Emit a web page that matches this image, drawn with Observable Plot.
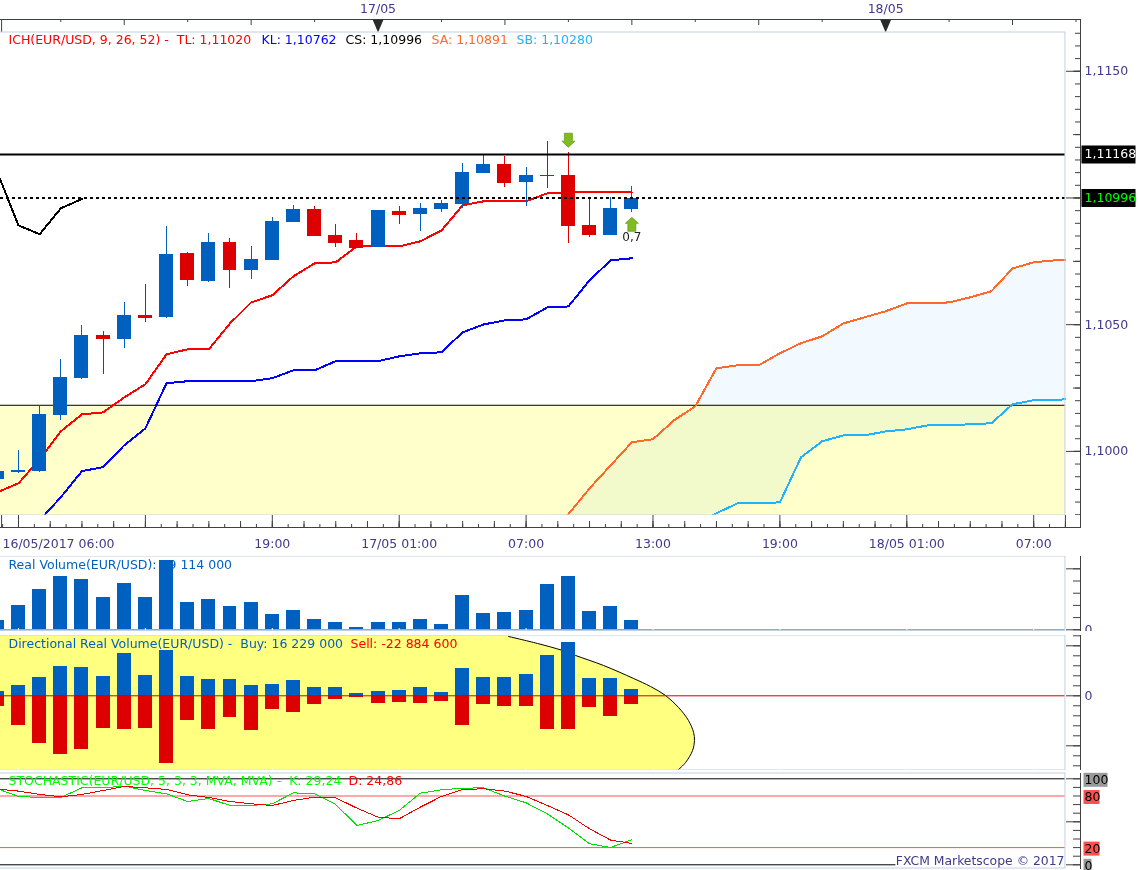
<!DOCTYPE html>
<html><head><meta charset="utf-8">
<script src="https://cdn.jsdelivr.net/npm/d3@7"></script>
<script src="https://cdn.jsdelivr.net/npm/@observablehq/plot@0.6"></script>
<style>html,body{margin:0;padding:0;background:#fff}#chart{position:relative;width:1138px;height:870px;overflow:hidden}</style>
</head><body><div id="chart"></div>
<script>
// ---- data ----
const bars = d3.range(-1, 30);
const open  = [1.09890,1.09918,1.09921,1.10142,1.10288,1.10458,1.10442,1.10537,1.10529,1.10782,1.10671,1.10825,1.10715,1.10754,1.10904,1.10955,1.10853,1.10833,1.10805,1.10947,1.10936,1.10955,1.10975,1.11097,1.11133,1.11062,1.11089,1.11089,1.10892,1.10853,1.10955];
const high  = [1.09921,1.10004,1.10178,1.10363,1.10498,1.10474,1.10588,1.10659,1.10888,1.10786,1.10861,1.10841,1.10809,1.10924,1.10971,1.10967,1.10896,1.10861,1.10951,1.10967,1.10979,1.10991,1.11137,1.11172,1.11164,1.11121,1.11224,1.11180,1.10999,1.11003,1.11046];
const low   = [1.09890,1.09914,1.09918,1.10123,1.10285,1.10304,1.10407,1.10509,1.10525,1.10651,1.10667,1.10644,1.10679,1.10754,1.10904,1.10849,1.10805,1.10801,1.10805,1.10896,1.10868,1.10943,1.10959,1.11097,1.11042,1.10967,1.11038,1.10821,1.10845,1.10853,1.10943];
const close = [1.09921,1.09925,1.10146,1.10292,1.10458,1.10442,1.10537,1.10525,1.10778,1.10675,1.10825,1.10715,1.10758,1.10908,1.10955,1.10849,1.10821,1.10801,1.10951,1.10932,1.10959,1.10979,1.11101,1.11133,1.11058,1.11089,1.11086,1.10888,1.10853,1.10959,1.10999];
const tenkan = [1.09839,1.09874,1.09969,1.10079,1.10146,1.10154,1.10213,1.10265,1.10383,1.10403,1.10403,1.10505,1.10588,1.10616,1.10691,1.10742,1.10746,1.10809,1.10809,1.10809,1.10829,1.10872,1.10971,1.10987,1.10987,1.10987,1.11018,1.11022,1.11022,1.11022,1.11022];
const kijunBars = d3.range(1, 30);
const kijun = [1.09728,1.09819,1.09922,1.09938,1.10024,1.10091,1.10269,1.10277,1.10277,1.10277,1.10277,1.10289,1.10320,1.10320,1.10356,1.10356,1.10356,1.10375,1.10387,1.10391,1.10470,1.10501,1.10517,1.10521,1.10568,1.10572,1.10675,1.10754,1.10762];
const chikouBars = [-1,0,1,2,3];
const chikou = [1.11101,1.10892,1.10857,1.10959,1.10996];
const cloudBars = [25,26,27,28,29,30,31,32,33,34,35,36,37,38,39,40,41,42,43,44,45,46,47,48,49,49.5];
const spanA = [1.09649,1.09752,1.09854,1.09945,1.10036,1.10048,1.10123,1.10178,1.10328,1.10340,1.10340,1.10387,1.10427,1.10454,1.10505,1.10529,1.10553,1.10584,1.10584,1.10588,1.10608,1.10632,1.10722,1.10746,1.10754,1.10756];
const spanB = [1.09708,1.09708,1.09708,1.09708,1.09708,1.09708,1.09708,1.09708,1.09756,1.09795,1.09795,1.09799,1.09977,1.10040,1.10063,1.10063,1.10079,1.10087,1.10103,1.10103,1.10107,1.10111,1.10186,1.10202,1.10202,1.10206];
const resistance = 1.11168, lastPrice = 1.10996, bandTop = 1.10182;
const volume = [38,100,165,219,206,132,190,132,283,112,124,96,112,63,79,42,30,9,30,30,42,22,141,67,71,79,186,219,75,96,39.114];
const buy  = [10.8,25.8,45.8,73.3,70.8,48.3,105.8,50.8,113.3,48.3,40.8,40.8,25.8,28.3,38.3,20.8,20.8,5.8,10.8,13.3,20.8,8.3,68.3,45.8,45.8,53.3,100.8,133.3,43.3,43.3,16.229];
const sell = [-26.8,-74.3,-119.3,-146.8,-134.3,-81.8,-84.3,-81.8,-169.3,-61.8,-84.3,-54.3,-86.8,-34.3,-41.8,-21.8,-9.3,-4.3,-19.3,-16.8,-19.3,-14.3,-74.3,-21.8,-26.8,-26.8,-84.3,-84.3,-29.3,-51.8,-22.8846];
const ellipseEdgeBar = [23.17,23.17,24.54,25.72,26.34,27.66,29.08,29.88,30.59,31.21,31.68,31.92,31.96,31.87,31.54,31.21];
const ellipseEdgeVol = [150.7,148.3,130.8,113.3,100.8,75.8,43.3,23.3,0.8,-29.3,-61.8,-91.8,-111.8,-136.8,-166.8,-184.3];
const stochK = [88.4,79.5,78.3,78.3,89.5,89.5,91.5,86.4,82.5,73.6,77.1,69,69,70.9,83.7,82.5,70.1,45.7,51.5,63.2,83.3,87.2,89.1,89.5,79.8,72.1,59.3,43,24.4,20.2,29.24];
const stochD = [88,85.7,81.8,79.1,81.8,86.4,91.1,89.5,87.6,81.4,78.3,73.6,70.9,69,74.8,78.7,77.9,65.9,55.4,53.5,67.1,79.5,87.6,88.4,85.7,79.5,69,58.1,41.9,28.7,24.86];
const timeBars = [12,18,24,30,36,42,48];
const timeLabels = ["19:00","17/05 01:00","07:00","13:00","19:00","18/05 01:00","07:00"];
const dayBars = [17,41];
const dayLabels = ["17/05","18/05"];
const priceTickLabels = [1.115,1.105,1.10];

// ---- look ----
const FONT = '"DejaVu Sans", sans-serif';
const FS = 12.5;
const BLUE = "#0060c0", RED = "#dc0000", AXIS = "#404040", INK = "#3f3a8c", EDGE = "#c3d0e0";
const xDomain = [-0.851, 50.213], panelEnd = 49.5, frameRight = 1080;
const priceFloor = 1.09747, priceCeil = 1.11653;
const fmt4 = d => d.toFixed(4).replace(".", ",");
const rows = bars.map((i, k) => ({i, o: open[k], h: high[k], l: low[k], c: close[k], up: close[k] >= open[k] && i !== 25, buy: buy[k], sell: sell[k], v: volume[k], tk: tenkan[k], K: stochK[k], D: stochD[k]}));
const cloud = cloudBars.map((i, k) => ({i, a: spanA[k], b: spanB[k], af: Math.max(spanA[k], priceFloor), bf: Math.max(spanB[k], priceFloor)}));
const edge = ellipseEdgeBar.map((x, k) => ({x, y: ellipseEdgeVol[k]}));

const chart = document.getElementById("chart");
function panel(top, height, opts, marks) {
  const svg = Plot.plot({
    width: 1138, height, marginLeft: 0, marginRight: 58, marginTop: 0, marginBottom: 0,
    x: {domain: xDomain, axis: null},
    style: {position: "absolute", left: "0px", top: top + "px", background: "transparent", fontFamily: FONT, overflow: "hidden"},
    ...opts, marks
  });
  chart.appendChild(svg);
}
const ticksY = (vals, size) => Plot.ruleY(vals, {insetLeft: frameRight - size, stroke: AXIS});
const ticksBelow = (vals, h, size, stroke = AXIS) => Plot.ruleX(vals, {insetTop: h - size, stroke});
const ticksAbove = (vals, h, size) => Plot.ruleX(vals, {insetBottom: h - size, stroke: AXIS});
const legend = (txt, fill, dx, dy) => Plot.text([txt], {frameAnchor: "top-left", dx, dy, text: d => d, fill, fontSize: FS, textAnchor: "start"});
const sideLabel = (vals, fill, format, dx = 4, dy = 0) => Plot.text(vals, {x: () => xDomain[1], y: d => d, text: format, fill, fontSize: FS, textAnchor: "start", dx, dy});
const box = (w, h) => ({draw(c) { c.rect(0, -h / 2, w, h); }});
const boxLeft = (w, h) => ({draw(c) { c.rect(-w, -h / 2, w, h); }});
const sideBox = (vals, w, h, fill, dx = 3, dy = 0) => Plot.dot(vals, {x: () => xDomain[1], y: d => d, symbol: box(w, h), fill, stroke: "none", r: 5, dx, dy});
const panelBox = (y1, y2) => Plot.rect([0], {x1: () => xDomain[0] - 1, x2: () => panelEnd, y1: () => y1, y2: () => y2, fill: "none", stroke: EDGE});
const levelRule = (v, o) => Plot.ruleY([v], {x1: () => xDomain[0], x2: () => panelEnd, ...o});
const arrowDown = {draw(c) { c.moveTo(-4, -7); c.lineTo(4, -7); c.lineTo(4, 1); c.lineTo(6.5, 1); c.lineTo(0, 7); c.lineTo(-6.5, 1); c.lineTo(-4, 1); c.closePath(); }};
const arrowUp = {draw(c) { c.moveTo(-4, 7); c.lineTo(4, 7); c.lineTo(4, -1); c.lineTo(6.5, -1); c.lineTo(0, -7); c.lineTo(-6.5, -1); c.lineTo(-4, -1); c.closePath(); }};
const notch = {draw(c) { c.moveTo(-5.5, 0); c.lineTo(5.5, 0); c.lineTo(0, 13); c.closePath(); }};
const majorX = d3.range(0, 49, 6);
const jag = {shapeRendering: "crispEdges"};

// top ruler
panel(0, 33, {marginTop: 19, marginBottom: 1}, [
  Plot.frame({anchor: "top", stroke: AXIS}),
  Plot.frame({anchor: "right", stroke: AXIS}),
  ticksAbove([-0.8], 13, 13),
  ticksAbove(d3.range(2, 51, 6), 13, 3),
  ticksAbove(d3.range(5, 51, 6), 13, 6),
  Plot.dot(dayBars, {x: d => d, frameAnchor: "top", symbol: notch, fill: "#2a2a2a", stroke: "none", r: 5}),
  Plot.text(dayBars, {x: d => d, frameAnchor: "top", dy: -15, text: (d, k) => dayLabels[k], fill: INK, fontSize: FS})
]);

// price panel
panel(0, 515, {marginTop: 32, y: {domain: [priceFloor, priceCeil], axis: null}}, [
  Plot.rect([0], {x1: () => xDomain[0], x2: () => panelEnd, y1: () => priceFloor, y2: () => bandTop, fill: "#ffffcc"}),
  Plot.areaY(cloud, {x: "i", y1: "af", y2: "bf", fill: "#f2faff", mixBlendMode: "multiply"}),
  levelRule(bandTop, {stroke: "#000", strokeWidth: 1}),
  Plot.lineY(cloud, {x: "i", y: "a", stroke: "#ff6a2a", strokeWidth: 2, clip: true, ...jag}),
  Plot.lineY(cloud, {x: "i", y: "b", stroke: "#20b2ff", strokeWidth: 2, clip: true, ...jag}),
  Plot.lineY(kijun, {x: (d, k) => kijunBars[k], y: d => d, stroke: "#0000ff", strokeWidth: 2, clip: true, ...jag}),
  Plot.lineY(rows, {x: "i", y: "tk", stroke: "#ff0000", strokeWidth: 2, clip: true, ...jag}),
  Plot.lineY(chikou, {x: (d, k) => chikouBars[k], y: d => d, stroke: "#000", strokeWidth: 2, clip: true, ...jag}),
  Plot.ruleX(rows, {x: "i", y1: "l", y2: "h", stroke: d => d.up ? BLUE : RED, strokeWidth: 1, clip: true, ...jag}),
  Plot.rect(rows, {x1: d => d.i - 0.33, x2: d => d.i + 0.33, y1: "o", y2: "c", fill: d => d.up ? BLUE : RED, clip: true, ...jag}),
  levelRule(resistance, {stroke: "#000", strokeWidth: 2, dy: -1}),
  levelRule(lastPrice, {stroke: "#000", strokeWidth: 2, strokeDasharray: "3,3", dy: -1}),
  Plot.dot([{i: 26, p: 1.11228}], {x: "i", y: "p", symbol: arrowDown, fill: "#80bc20", stroke: "#5c9a12", strokeWidth: 0.7, r: 5}),
  Plot.dot([{i: 29, p: 1.10896}], {x: "i", y: "p", symbol: arrowUp, fill: "#80bc20", stroke: "#5c9a12", strokeWidth: 0.7, r: 5}),
  Plot.text([{i: 29, p: 1.10845, t: "0,7"}], {x: "i", y: "p", text: "t", fill: "#222", fontSize: 12}),
  panelBox(priceFloor, priceCeil),
  Plot.frame({anchor: "right", stroke: AXIS}),
  ticksY(d3.range(21950, 22331).filter(d => d % 10 === 0).map(d => d / 20000), 5),
  ticksY([1.1, 1.1025, 1.105, 1.1075, 1.11, 1.1125, 1.115], 7),
  ticksY([1.1, 1.105, 1.11, 1.115], 14),
  sideBox([resistance, lastPrice], 54, 18, "#000", 1, -1),
  sideLabel(priceTickLabels, INK, fmt4),
  Plot.text([resistance], {x: () => xDomain[1], y: d => d, text: () => "1,11168", fill: "#fff", fontSize: FS, textAnchor: "start", dx: 4, dy: -1}),
  Plot.text([lastPrice], {x: () => xDomain[1], y: d => d, text: () => "1,10996", fill: "#00ff00", fontSize: FS, textAnchor: "start", dx: 4, dy: -1}),
  legend("ICH(EUR/USD, 9, 26, 52) -  TL: 1,11020", "#ff0000", 8, 3),
  legend("KL: 1,10762", "#0000ff", 261, 3),
  legend("CS: 1,10996", "#000", 345, 3),
  legend("SA: 1,10891", "#ff6a2a", 431, 3),
  legend("SB: 1,10280", "#20b2ff", 516, 3)
]);

// time axis strip
panel(515, 40, {marginBottom: 28}, [
  Plot.frame({anchor: "bottom", stroke: AXIS}),
  Plot.frame({anchor: "right", stroke: AXIS}),
  ticksBelow(d3.range(-1, 67).map(k => k * 0.75), 12, 3),
  ticksBelow(d3.range(0, 34).map(k => k * 1.5), 12, 6),
  ticksBelow([-0.8, ...majorX, panelEnd], 12, 12),
  Plot.text(timeBars, {x: d => d, frameAnchor: "bottom", dy: 20, text: (d, k) => timeLabels[k], fill: INK, fontSize: FS}),
  Plot.text(["16/05/2017 06:00"], {frameAnchor: "bottom-left", dx: 2, dy: 20, text: d => d, fill: INK, fontSize: FS, textAnchor: "start"})
]);

// real volume
panel(556, 75, {marginBottom: 1, y: {domain: [-2.9, 300.5], axis: null}}, [
  legend("Real Volume(EUR/USD): 39 114 000", BLUE, 8, 4),
  Plot.rect(rows, {x1: d => d.i - 0.33, x2: d => d.i + 0.33, y1: () => 0, y2: "v", fill: BLUE, clip: true, ...jag}),
  levelRule(0, {stroke: BLUE, strokeWidth: 1}),
  panelBox(-2.9, 300.5),
  ticksBelow(majorX, 74, 2, "#fff"),
  Plot.frame({anchor: "right", stroke: AXIS}),
  ticksY(d3.range(0, 251, 50), 7),
  ticksY([0, 250], 14),
  sideLabel([0], INK, d => String(d), 4)
]);

// directional volume
panel(635, 135, {y: {domain: [-186.75, 150.75], axis: null}}, [
  Plot.areaX(edge, {x1: () => xDomain[0], x2: "x", y: "y", fill: "#ffff80", curve: "catmull-rom", clip: true}),
  Plot.line(edge.slice(1), {x: "x", y: "y", stroke: "#000", strokeWidth: 1, curve: "catmull-rom", clip: true}),
  legend("Directional Real Volume(EUR/USD) -  Buy: 16 229 000", BLUE, 8, 4),
  legend("Sell: -22 884 600", "#ff0000", 350, 4),
  Plot.rect(rows, {x1: d => d.i - 0.33, x2: d => d.i + 0.33, y1: () => 0, y2: "buy", fill: BLUE, clip: true, ...jag}),
  Plot.rect(rows, {x1: d => d.i - 0.33, x2: d => d.i + 0.33, y1: () => 0, y2: "sell", fill: RED, clip: true, ...jag}),
  levelRule(0, {stroke: "#d00000", strokeWidth: 1}),
  panelBox(-186.75, 150.75),
  ticksBelow(majorX, 135, 2, "#fff"),
  Plot.frame({anchor: "right", stroke: AXIS}),
  ticksY(d3.range(-175, 151, 25), 7),
  ticksY([-125, 0, 125], 14),
  sideLabel([0], INK, d => String(d), 4)
]);

// stochastic: the svg starts above the panel so the 100 label box is whole
panel(770, 100, {marginTop: 3, marginBottom: 2, y: {domain: [-4.3, 106.16], axis: null}}, [
  levelRule(100, {stroke: "#000", strokeWidth: 1}),
  levelRule(0, {stroke: "#000", strokeWidth: 1}),
  levelRule(80, {stroke: "#ff5050", strokeWidth: 1}),
  levelRule(20, {stroke: "#ff5050", strokeWidth: 1}),
  legend("STOCHASTIC(EUR/USD, 5, 3, 3, MVA, MVA) -  K: 29,24", "#00ff00", 8, 3),
  legend("D: 24,86", "#ff0000", 348, 3),
  Plot.lineY(rows, {x: "i", y: "K", stroke: "#00e000", strokeWidth: 1, clip: true, ...jag}),
  Plot.lineY(rows, {x: "i", y: "D", stroke: "#ee0000", strokeWidth: 1, clip: true, ...jag}),
  Plot.dot([3.8], {x: () => panelEnd, y: d => d, symbol: boxLeft(170, 14), fill: "#fff", stroke: "none", r: 5}),
  Plot.text(["FXCM Marketscope © 2017"], {frameAnchor: "bottom-right", dx: -16, dy: -4, text: d => d, fill: INK, fontSize: 12.4, textAnchor: "end"}),
  panelBox(-4.3, 106.16),
  Plot.frame({anchor: "right", stroke: AXIS}),
  ticksY(d3.range(0, 101, 10), 7),
  ticksY([0, 50, 100], 14),
  sideBox([100], 24, 14, "#999999", 3, 1),
  sideBox([80, 20], 16, 14, "#ff5050", 3, 1),
  sideBox([0], 8, 14, "#999999", 3, 1),
  sideLabel([100, 80, 20, 0], "#000", d => String(d), 4, 1)
]);
</script></body></html>
